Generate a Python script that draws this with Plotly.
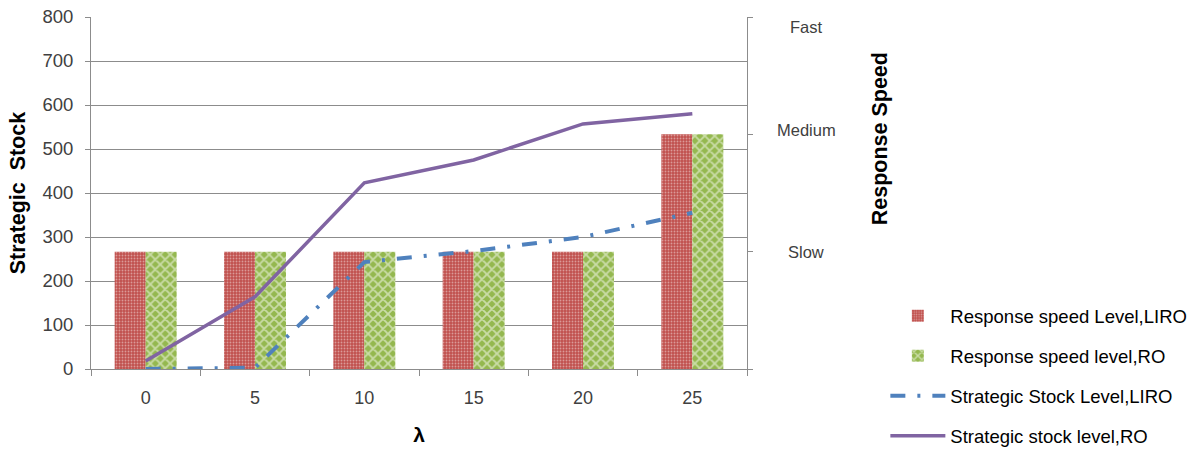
import plotly.graph_objects as go

# Categories (lambda) and series values
lam = ["0", "5", "10", "15", "20", "25"]
speed_liro = [1, 1, 1, 1, 1, 2]          # 1 = Slow, 2 = Medium, 3 = Fast
speed_ro = [1, 1, 1, 1, 1, 2]
stock_liro = [0, 3, 243, 268, 300, 355]
stock_ro = [18, 164, 423, 475, 557, 580]
speed_levels = [1, 2, 3]
speed_names = ["Slow", "Medium", "Fast"]

FONT = "Liberation Sans"
GRID = "#8c8c8c"
TXT = "#404040"

fig = go.Figure()

fig.add_trace(go.Bar(
    x=lam, y=speed_liro, name="Response speed Level,LIRO", yaxis="y",
    legendgroup="a",
    marker=dict(color="#C0504D", line=dict(width=0),
                pattern=dict(shape=".", fgcolor="rgba(255,255,255,0.85)",
                             bgcolor="#C0504D", size=3, solidity=0.3)),
))
fig.add_trace(go.Bar(
    x=lam, y=speed_ro, name="Response speed level,RO", yaxis="y",
    legendgroup="b",
    marker=dict(color="#9BBB59", line=dict(width=0),
                pattern=dict(shape="x", fgcolor="white",
                             bgcolor="#94B84F", size=7, solidity=0.45)),
))
fig.add_trace(go.Scatter(
    x=lam, y=stock_liro, name="Strategic Stock Level,LIRO", yaxis="y2",
    legendgroup="c", mode="lines",
    line=dict(color="#4F81BD", width=4, dash="15px,12px,3px,12px"),
))
fig.add_trace(go.Scatter(
    x=lam, y=stock_ro, name="Strategic stock level,RO", yaxis="y2",
    legendgroup="d", mode="lines",
    line=dict(color="#8064A2", width=3.5),
))

# Response speed level labels on the right axis
label_shift = {"Slow": 0, "Medium": 4, "Fast": -10}
for v, t in zip(speed_levels, speed_names):
    fig.add_annotation(x=1.09, xref="paper", y=v, yref="y", text=t,
                       showarrow=False, xanchor="center", yanchor="middle",
                       yshift=label_shift[t],
                       font=dict(family=FONT, size=16.5, color=TXT))

fig.update_layout(
    width=1190, height=451,
    margin=dict(l=91, r=443, t=17, b=82, autoexpand=False),
    paper_bgcolor="white", plot_bgcolor="white",
    font=dict(family=FONT, color=TXT),
    barmode="group", bargap=0.433, bargroupgap=0,
    xaxis=dict(
        type="category", showline=True, linecolor=GRID, linewidth=1,
        ticks="outside", tickson="boundaries", ticklen=6, tickcolor=GRID,
        ticklabelstandoff=12, automargin=False,
        tickfont=dict(size=18, color=TXT),
        title=dict(text="<b>λ</b>", font=dict(size=21, color="black"), standoff=20),
    ),
    yaxis=dict(
        side="right", range=[0, 3], tickvals=[0, 1, 2, 3], showticklabels=False,
        showgrid=False, zeroline=False, showline=True, linecolor=GRID,
        ticks="outside", ticklen=5, tickcolor=GRID, automargin=False,
    ),
    yaxis2=dict(
        overlaying="y", side="left", range=[0, 800], dtick=100,
        showgrid=True, gridcolor=GRID, gridwidth=1, zeroline=False,
        showline=True, linecolor=GRID, ticks="outside", ticklen=5, tickcolor=GRID,
        ticklabelstandoff=8, automargin=False,
        tickfont=dict(size=18.5, color=TXT),
        title=dict(text="<b>Strategic  Stock</b>", font=dict(size=21.5, color="black"),
                   standoff=10),
    ),
    legend=dict(
        xref="container", yref="container",
        x=0.744, xanchor="left", y=0.166, yanchor="middle",
        font=dict(size=18.5, color="black"), itemwidth=55,
        tracegroupgap=13, bgcolor="rgba(0,0,0,0)",
    ),
)

fig.add_annotation(x=1.203, xref="paper", y=0.653, yref="paper",
                   text="<b>Response Speed</b>", textangle=-90, showarrow=False,
                   xanchor="center", yanchor="middle",
                   font=dict(family=FONT, size=21.5, color="black"))

fig.write_html("out.html")
